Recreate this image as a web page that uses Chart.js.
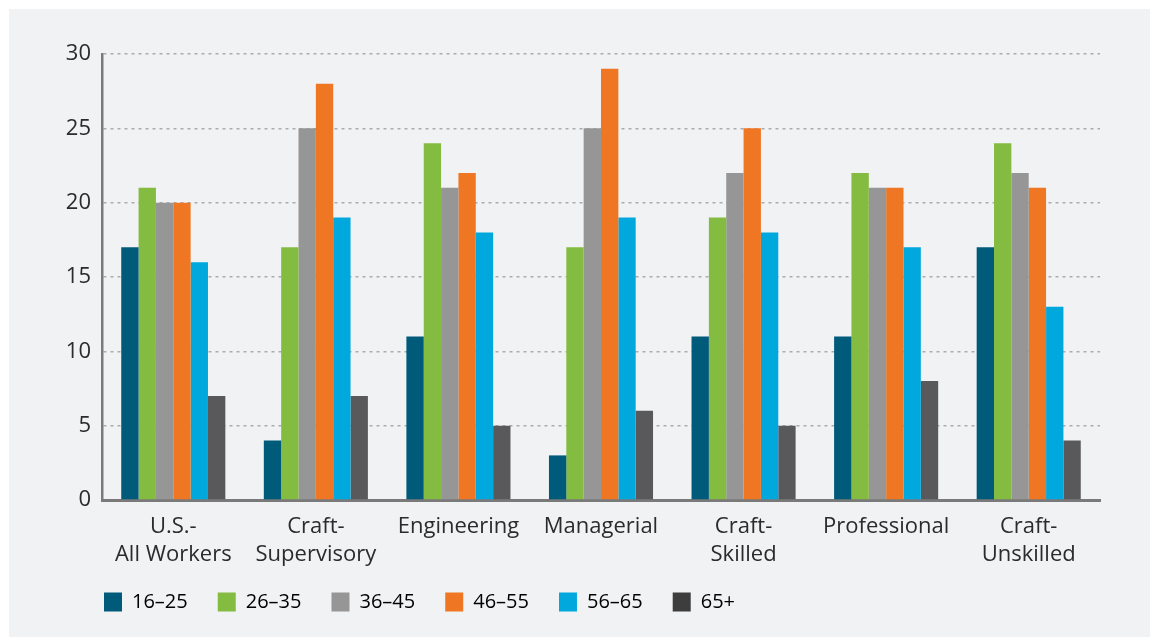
<!DOCTYPE html>
<html>
<head>
<meta charset="utf-8">
<script src="https://cdn.jsdelivr.net/npm/chart.js@4.4.1/dist/chart.umd.min.js"></script>
<style>
  html, body { margin: 0; padding: 0; background: #ffffff; }
  #panel { position: absolute; left: 9px; top: 9px; width: 1141px; height: 628px; background: #f1f2f4; }
  #edadChart { display: block; }
</style>
</head>
<body>
<div id="panel"><canvas id="edadChart" width="1141" height="628"></canvas></div>
<script>
// Categorías del eje X (cada una en dos líneas cuando hace falta)
const categorias = [
    ["U.S.-", "All Workers"],
    ["Craft-", "Supervisory"],
    "Engineering",
    "Managerial",
    ["Craft-", "Skilled"],
    "Professional",
    ["Craft-", "Unskilled"]
];

// Grupos de edad (leyenda)
const gruposEdad = ["16\u201325", "26\u201335", "36\u201345", "46\u201355", "56\u201365", "65+"];

// Porcentaje por grupo de edad en cada categoría
const edad16a25 = [17, 4, 11, 3, 11, 11, 17];
const edad26a35 = [21, 17, 24, 17, 19, 22, 24];
const edad36a45 = [20, 25, 21, 25, 22, 21, 22];
const edad46a55 = [20, 28, 22, 29, 25, 21, 21];
const edad56a65 = [16, 19, 18, 19, 18, 17, 13];
const edad65mas = [7, 7, 5, 6, 5, 8, 4];

// Marcas del eje Y
const ticksY = [0, 5, 10, 15, 20, 25, 30];

const colores = ["#005a7a", "#84bb41", "#969696", "#ef7622", "#00a8de", "#59585a"];
const coloresLeyenda = ["#005a7a", "#84bb41", "#969696", "#ef7622", "#00a8de", "#3d3d3d"];

const series = [edad16a25, edad26a35, edad36a45, edad46a55, edad56a65, edad65mas];

const fuente = "'Open Sans', 'Noto Sans', sans-serif";
const paddingLeyenda = 30;

// Coloca la leyenda bajo el eje Y, debajo de las etiquetas del eje X
const leyendaPosicion = {
    id: "leyendaPosicion",
    afterLayout(chart) {
        chart.legend.left = 95 - paddingLeyenda;
        chart.legend.top = 583 - paddingLeyenda;
    }
};

const ctx = document.getElementById("edadChart").getContext("2d");
const edadChart = new Chart(ctx, {
    type: "bar",
    data: {
        labels: categorias,
        datasets: series.map((valores, i) => ({
            label: gruposEdad[i],
            data: valores,
            backgroundColor: colores[i],
            borderWidth: 0,
            categoryPercentage: 0.73,
            barPercentage: 1.0
        }))
    },
    options: {
        responsive: false,
        animation: false,
        layout: {
            padding: { top: 45, right: 50, left: 0, bottom: 0 }
        },
        plugins: {
            tooltip: { enabled: false },
            legend: {
                position: "bottom",
                align: "start",
                labels: {
                    boxWidth: 18,
                    boxHeight: 19,
                    padding: paddingLeyenda,
                    color: "#2b2b2b",
                    font: { family: fuente, size: 20 },
                    generateLabels(chart) {
                        return chart.data.datasets.map((ds, i) => ({
                            text: ds.label,
                            fillStyle: coloresLeyenda[i],
                            strokeStyle: coloresLeyenda[i],
                            lineWidth: 0,
                            hidden: false,
                            datasetIndex: i
                        }));
                    }
                }
            }
        },
        scales: {
            x: {
                grid: { display: false, drawTicks: false },
                border: { display: true, color: "#7a7a7a", width: 3 },
                ticks: {
                    color: "#2b2b2b",
                    font: { family: fuente, size: 22, lineHeight: 1.27 },
                    padding: 13,
                    maxRotation: 0,
                    autoSkip: false
                },
                afterFit(scale) {
                    scale.height = 77;
                }
            },
            y: {
                min: 0,
                max: 30,
                afterBuildTicks(scale) {
                    scale.ticks = ticksY.map(v => ({ value: v }));
                },
                grid: {
                    color: "#a9abae",
                    lineWidth: 1.5,
                    drawTicks: false
                },
                border: { display: true, color: "#7a7a7a", width: 2.5, dash: [3, 4] },
                ticks: {
                    color: "#2b2b2b",
                    font: { family: fuente, size: 22 },
                    padding: 11
                },
                afterFit(scale) {
                    scale.width = 93;
                }
            }
        }
    },
    plugins: [leyendaPosicion]
});
</script>
</body>
</html>
